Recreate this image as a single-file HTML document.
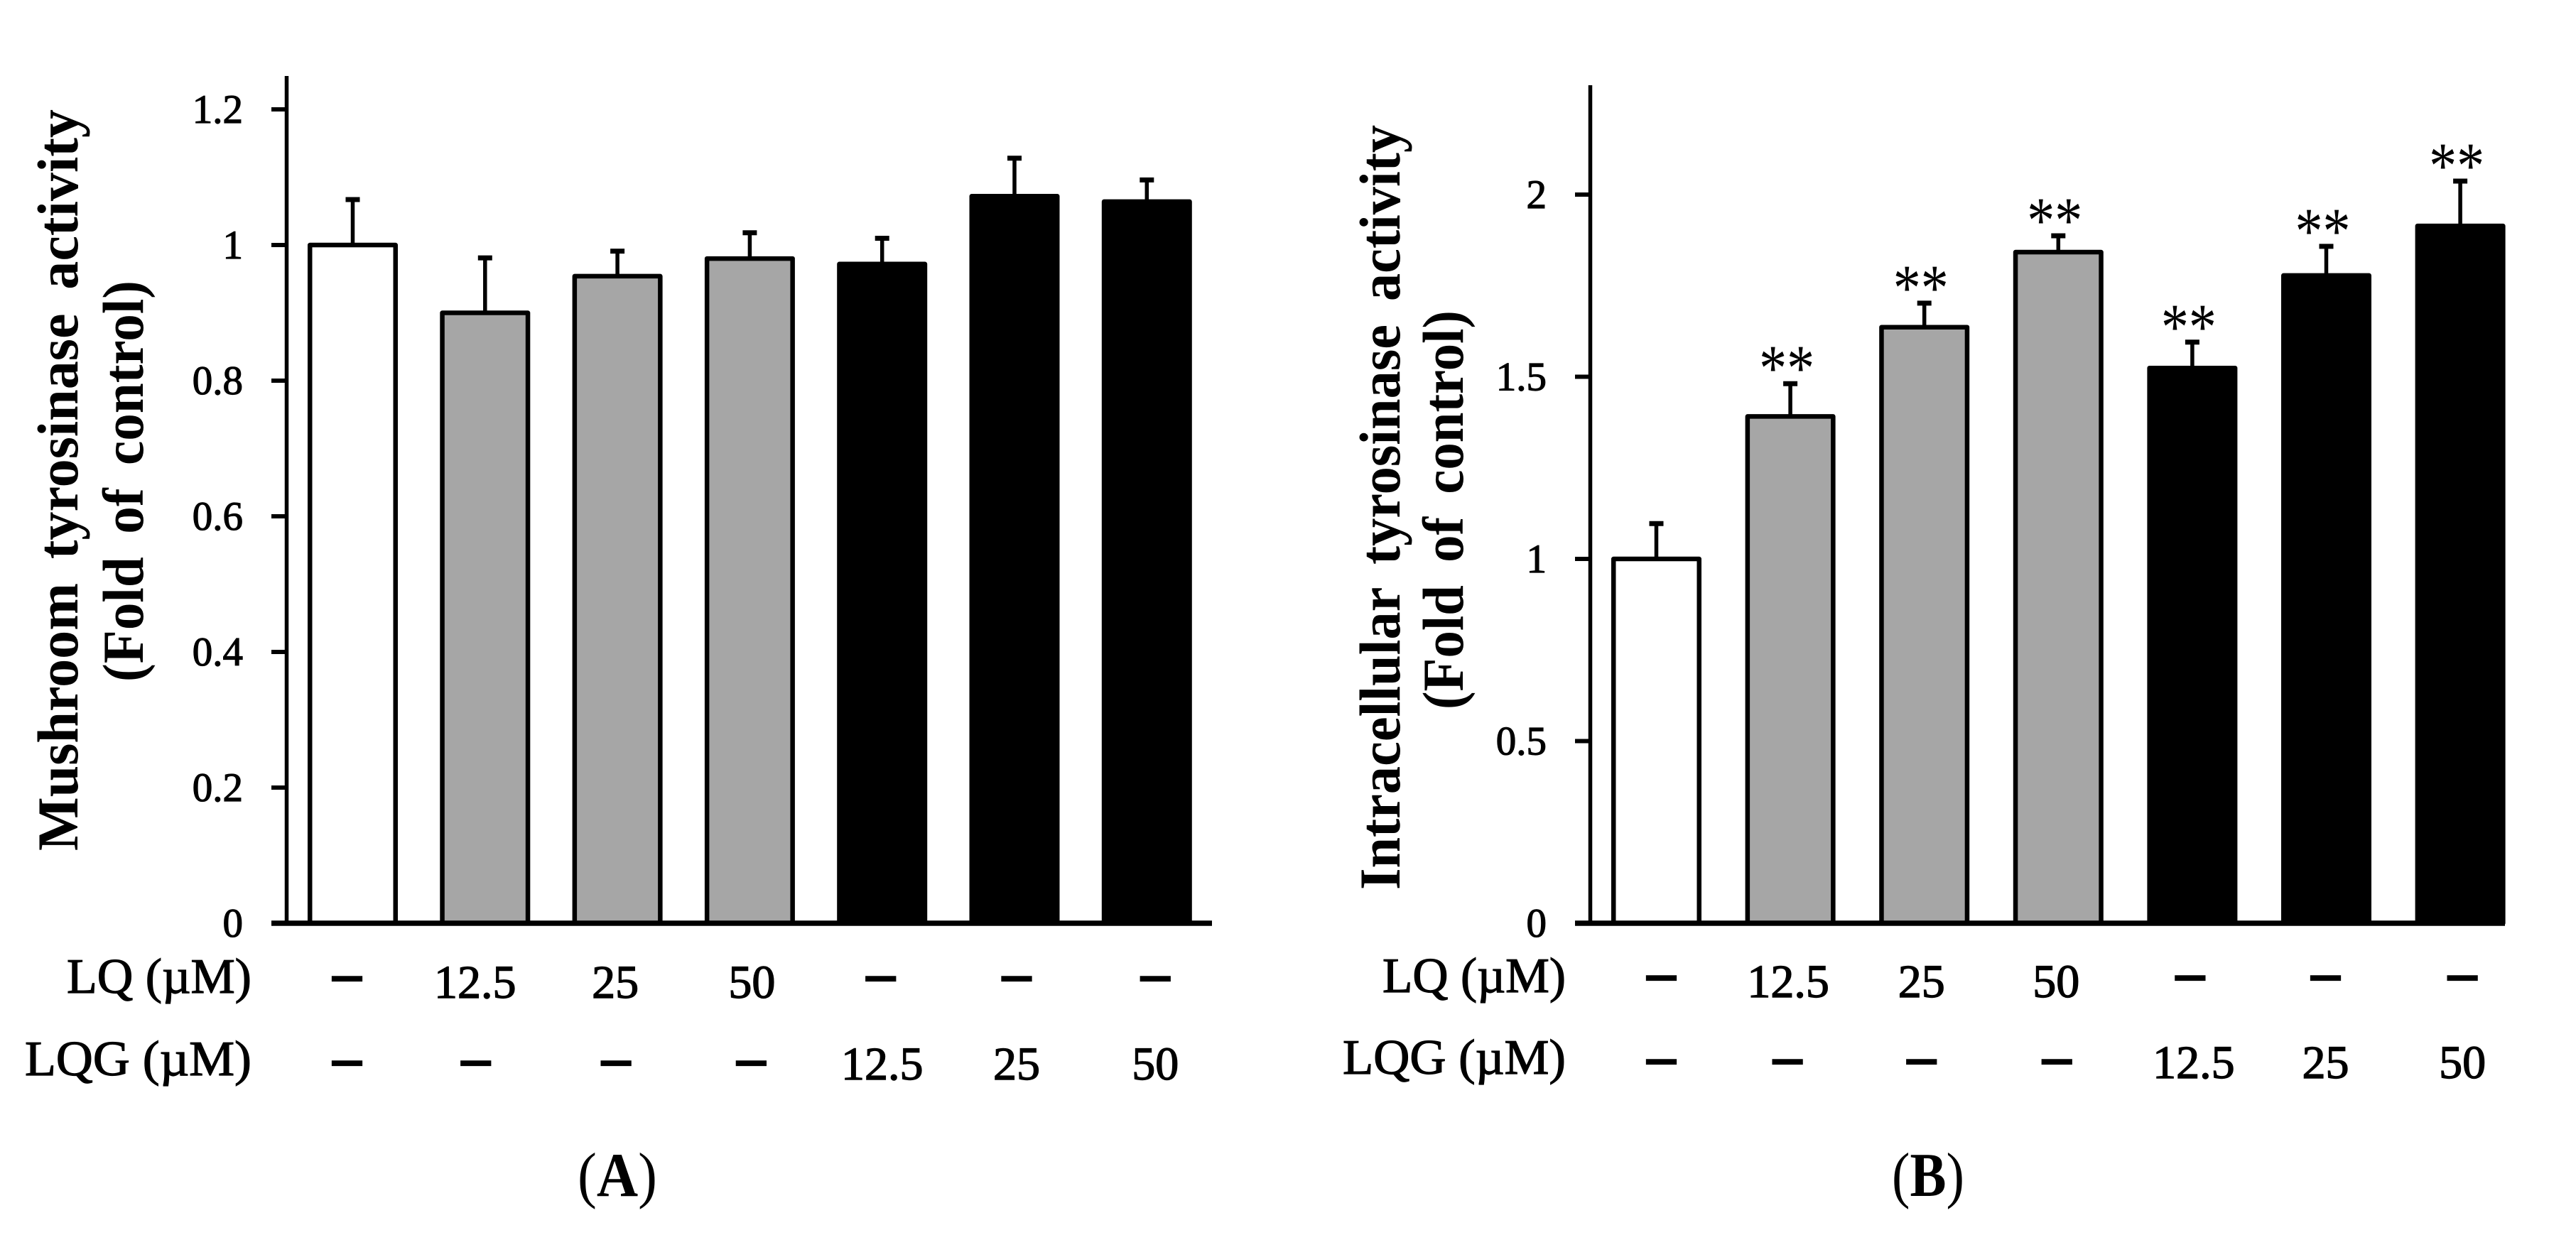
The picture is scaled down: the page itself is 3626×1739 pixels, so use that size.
<!DOCTYPE html>
<html lang="en">
<head>
<meta charset="utf-8">
<title>Tyrosinase activity charts</title>
<style>
html,body{margin:0;padding:0;background:#fff;width:3626px;height:1739px;overflow:hidden}
svg{display:block;position:absolute;left:0;top:0}
text{font-family:"Liberation Serif",serif;fill:#000}
.title{font-size:82px;font-weight:bold;word-spacing:14px}
.tick{font-size:57px;stroke:#000;stroke-width:1.2px;text-anchor:end}
.row-head{font-size:70px;stroke:#000;stroke-width:1.2px}
.row-val{font-size:66px;stroke:#000;stroke-width:1.4px;text-anchor:middle}
.row-dash{font-size:80px;font-weight:bold;stroke:#000;stroke-width:2.2px;text-anchor:middle}
.star{font-size:92px;text-anchor:middle}
.panel{font-size:88px}
</style>
</head>
<body>
<svg id="chart" xmlns="http://www.w3.org/2000/svg" width="3626" height="1739" viewBox="0 0 3626 1739">
  <rect width="3626" height="1739" fill="#fff"/>
  <text class="title" transform="translate(109,1198) rotate(-90)" textLength="1044" lengthAdjust="spacingAndGlyphs">Mushroom tyrosinase activity</text>
  <text class="title" transform="translate(201,960) rotate(-90)" textLength="565" lengthAdjust="spacingAndGlyphs">(Fold of control)</text>
  <text class="title" transform="translate(1970,1253) rotate(-90)" textLength="1077" lengthAdjust="spacingAndGlyphs">Intracellular tyrosinase activity</text>
  <text class="title" transform="translate(2059,999) rotate(-90)" textLength="562" lengthAdjust="spacingAndGlyphs">(Fold of control)</text>
  <text class="row-head" x="94" y="1398" textLength="260" lengthAdjust="spacingAndGlyphs">LQ (µM)</text>
  <text class="row-head" x="35" y="1514" textLength="319" lengthAdjust="spacingAndGlyphs">LQG (µM)</text>
  <text class="row-head" x="1946" y="1397" textLength="258" lengthAdjust="spacingAndGlyphs">LQ (µM)</text>
  <text class="row-head" x="1890" y="1512" textLength="314" lengthAdjust="spacingAndGlyphs">LQG (µM)</text>
  <text class="panel" x="813" y="1684" textLength="112" lengthAdjust="spacingAndGlyphs">(<tspan font-weight="bold">A</tspan>)</text>
  <text class="panel" x="2663" y="1684" textLength="102" lengthAdjust="spacingAndGlyphs">(<tspan font-weight="bold">B</tspan>)</text>
</svg>
<script>
// ---- data ----
const categories = ['Control', 'LQ 12.5', 'LQ 25', 'LQ 50', 'LQG 12.5', 'LQG 25', 'LQG 50'];
const lqRow = ['–', '12.5', '25', '50', '–', '–', '–'];
const lqgRow = ['–', '–', '–', '–', '12.5', '25', '50'];
const groups = ['control', 'lq', 'lq', 'lq', 'lqg', 'lqg', 'lqg'];
const mushroomValues = [1.0, 0.9, 0.954, 0.98, 0.972, 1.072, 1.064];
const mushroomErrors = [0.067, 0.081, 0.037, 0.038, 0.038, 0.056, 0.032];
const mushroomTicks = [0, 0.2, 0.4, 0.6, 0.8, 1, 1.2];
const mushroomTickLabels = ['0', '0.2', '0.4', '0.6', '0.8', '1', '1.2'];
const mushroomMarks = ['', '', '', '', '', '', ''];
const cellValues = [1.0, 1.391, 1.636, 1.842, 1.524, 1.778, 1.914];
const cellErrors = [0.097, 0.09, 0.066, 0.045, 0.071, 0.08, 0.123];
const cellTicks = [0, 0.5, 1, 1.5, 2];
const cellTickLabels = ['0', '0.5', '1', '1.5', '2'];
const cellMarks = ['', '**', '**', '**', '**', '**', '**'];

// ---- layout (not data) ----
const groupFill = {control: '#ffffff', lq: '#a6a6a6', lqg: '#000000'};
const layoutA = {id: 'a', axisX: 403.5, top: 107, right: 1706, left: 382, baseY: 1300, perUnit: 955, x0: 496.5, step: 186.3, labelRight: 342,
  nudge1: [-8, -14, -3, 3, -2, 3, 12], nudge2: [-8, -13, -2, 2, 0, 3, 12], rowY1: 1405, rowY2: 1520, dashY1: 1397, dashY2: 1516};
const layoutB = {id: 'b', axisX: 2238.5, top: 120, right: 3526, left: 2217, baseY: 1300, perUnit: 513, x0: 2331.5, step: 188.6, labelRight: 2177,
  nudge1: [7, -3, -4, -3, -3, -1, 3], nudge2: [7, -4, -4, -2, 2, -1, 3], rowY1: 1404, rowY2: 1518, dashY1: 1396, dashY2: 1514};
const barWidth = 120.5;
const svg = document.getElementById('chart');
const NS = 'http://www.w3.org/2000/svg';

function make(tag, props) {
  const el = document.createElementNS(NS, tag);
  for (const k in props) el.setAttribute(k, props[k]);
  return el;
}

function drawPanel(L, values, errors, ticks, tickLabels, marks) {
  const y = v => L.baseY - v * L.perUnit;
  const x = i => L.x0 + i * L.step;

  values.forEach((v, i) => {
    const stem = make('line', {x1: x(i), x2: x(i), y1: y(v), y2: y(v + errors[i]), stroke: '#000', 'stroke-width': 5.5});
    
    
    svg.appendChild(stem);

    const cap = make('line', {x1: x(i) - 10, x2: x(i) + 10, y1: y(v + errors[i]), y2: y(v + errors[i]), stroke: '#000', 'stroke-width': 7});
    
    
    svg.appendChild(cap);

    const bar = make('rect', {x: x(i) - barWidth / 2, y: y(v), width: barWidth, height: L.baseY - y(v), fill: groupFill[groups[i]], stroke: '#000', 'stroke-width': 6.5, 'stroke-linejoin': 'round'});
    
    
    svg.appendChild(bar);

    if (marks[i]) {
      const star = make('text', {x: x(i) - 5, y: y(v + errors[i]) - 34 + 43, class: 'star', textLength: 78, lengthAdjust: 'spacingAndGlyphs'});
      star.textContent = marks[i];
      
      
      svg.appendChild(star);
    }

    const rows = [[lqRow[i], L.nudge1[i], L.rowY1, L.dashY1, 'lq'], [lqgRow[i], L.nudge2[i], L.rowY2, L.dashY2, 'lqg']];
    rows.forEach(r => {
      const isDash = r[0] === '–';
      const t = make('text', {x: x(i) + r[1], y: isDash ? r[3] : r[2], class: isDash ? 'row-dash' : 'row-val'});
      t.textContent = r[0];
      
      
      svg.appendChild(t);
    });
  });

  const yAxis = make('line', {x1: L.axisX, x2: L.axisX, y1: L.top, y2: L.baseY, stroke: '#000', 'stroke-width': 5.5});
  
  
  svg.appendChild(yAxis);

  const xAxis = make('line', {x1: L.left, x2: L.right, y1: L.baseY, y2: L.baseY, stroke: '#000', 'stroke-width': 7.5});
  
  
  svg.appendChild(xAxis);

  ticks.forEach((t, i) => {
    const mark = make('line', {x1: L.left, x2: L.axisX, y1: y(t), y2: y(t), stroke: '#000', 'stroke-width': 6});
    
    
    svg.appendChild(mark);

    const label = make('text', {x: L.labelRight, y: y(t) + 19, class: 'tick'});
    label.textContent = tickLabels[i];
    
    
    svg.appendChild(label);
  });
}

drawPanel(layoutA, mushroomValues, mushroomErrors, mushroomTicks, mushroomTickLabels, mushroomMarks);
drawPanel(layoutB, cellValues, cellErrors, cellTicks, cellTickLabels, cellMarks);
</script>
</body>
</html>
